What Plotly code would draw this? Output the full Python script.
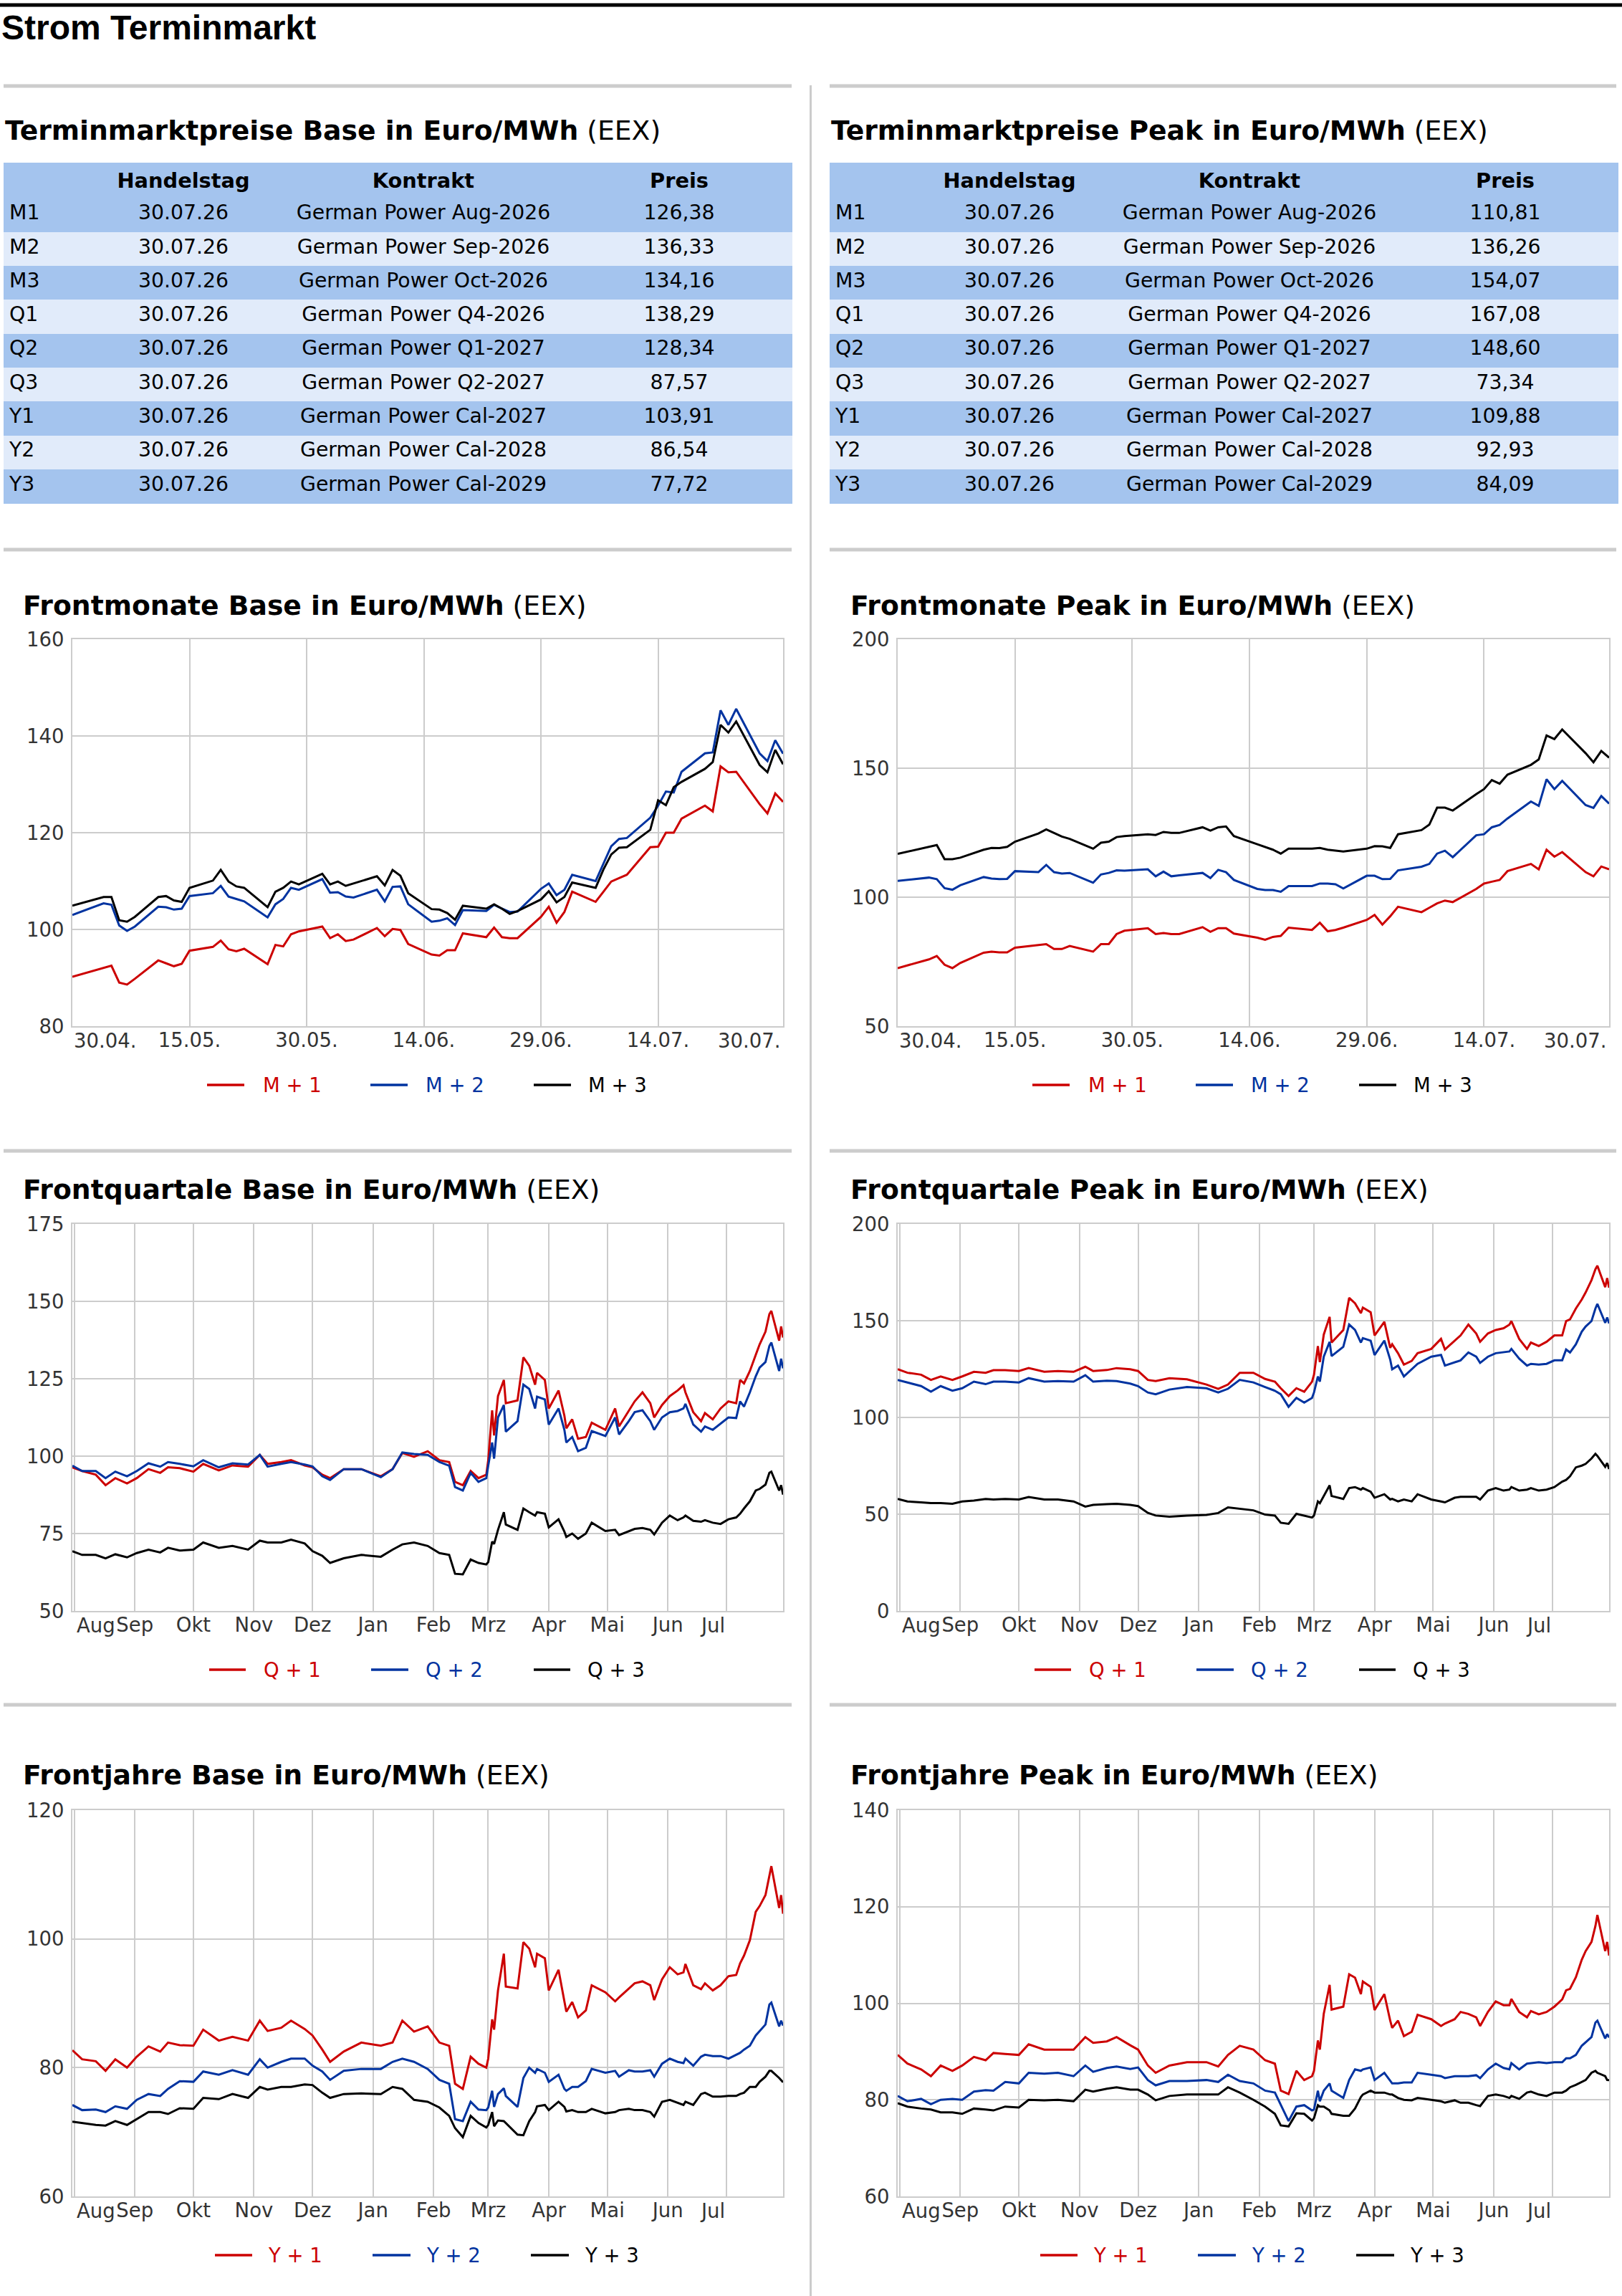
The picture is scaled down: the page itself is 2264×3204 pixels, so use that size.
import plotly.graph_objects as go

W, H = 2264, 3204
def xp(px): return px / W
def yp(px): return 1 - px / H

FONT = "DejaVu Sans"
RED, BLUE, BLACK = "#cc0000", "#0033a0", "#000000"
GRID = "#cccccc"
TICK = "#333333"
DARK_ROW, LIGHT_ROW = "#a4c4ee", "#e1ebfa"

# ---------------- table data ----------------
row_labels = ["M1", "M2", "M3", "Q1", "Q2", "Q3", "Y1", "Y2", "Y3"]
trade_day = ["30.07.26"] * 9
contracts = ["German Power Aug-2026", "German Power Sep-2026", "German Power Oct-2026",
             "German Power Q4-2026", "German Power Q1-2027", "German Power Q2-2027",
             "German Power Cal-2027", "German Power Cal-2028", "German Power Cal-2029"]
base_prices = [126.38, 136.33, 134.16, 138.29, 128.34, 87.57, 103.91, 86.54, 77.72]
peak_prices = [110.81, 136.26, 154.07, 167.08, 148.60, 73.34, 109.88, 92.93, 84.09]

# ---------------- front months (daily) ----------------
month_dates = ["2026-04-30", "2026-05-04", "2026-05-05", "2026-05-06", "2026-05-07", "2026-05-08",
               "2026-05-11", "2026-05-12", "2026-05-13", "2026-05-14", "2026-05-15",
               "2026-05-18", "2026-05-19", "2026-05-20", "2026-05-21", "2026-05-22",
               "2026-05-25", "2026-05-26", "2026-05-27", "2026-05-28", "2026-05-29",
               "2026-06-01", "2026-06-02", "2026-06-03", "2026-06-04", "2026-06-05",
               "2026-06-08", "2026-06-09", "2026-06-10", "2026-06-11", "2026-06-12",
               "2026-06-15", "2026-06-16", "2026-06-17", "2026-06-18", "2026-06-19",
               "2026-06-22", "2026-06-23", "2026-06-24", "2026-06-25", "2026-06-26",
               "2026-06-29", "2026-06-30", "2026-07-01", "2026-07-02", "2026-07-03",
               "2026-07-06", "2026-07-07", "2026-07-08", "2026-07-09", "2026-07-10",
               "2026-07-13", "2026-07-14", "2026-07-15", "2026-07-16", "2026-07-17",
               "2026-07-20", "2026-07-21", "2026-07-22", "2026-07-23", "2026-07-24",
               "2026-07-27", "2026-07-28", "2026-07-29", "2026-07-30"]
m1_base = [90.2, 92.0, 92.5, 89.0, 88.6, 89.8, 93.6, 93.0, 92.4, 92.9, 95.6, 96.4, 97.7, 95.9, 95.5, 96.0,
           92.8, 96.8, 96.5, 99.0, 99.6, 100.6, 98.2, 99.0, 97.6, 97.9, 100.3, 98.6, 100.1, 99.9, 97.0,
           94.8, 94.6, 95.7, 95.7, 99.2, 98.4, 100.4, 98.4, 98.2, 98.2, 102.6, 104.7, 101.4, 103.6, 107.8,
           105.7, 107.8, 109.9, 110.6, 111.3, 117.0, 117.1, 120.0, 120.0, 122.9, 125.6, 124.4, 133.7, 132.5,
           132.6, 125.9, 124.0, 128.1, 126.38]
m2_base = [103.0, 105.4, 105.1, 100.8, 99.7, 100.6, 104.7, 104.6, 104.1, 104.3, 106.9, 107.5, 109.0, 106.8,
           106.3, 105.8, 102.5, 105.2, 106.3, 108.6, 108.2, 110.4, 107.6, 107.7, 106.8, 106.6, 108.2, 105.8,
           108.8, 108.9, 105.2, 101.6, 101.8, 102.3, 100.9, 104.0, 103.8, 105.1, 104.3, 103.6, 103.7, 108.4,
           109.5, 107.1, 108.2, 111.3, 110.0, 113.5, 117.2, 118.7, 118.9, 123.1, 125.6, 128.5, 128.3, 132.6,
           136.4, 136.6, 145.3, 142.3, 145.6, 136.4, 134.8, 139.1, 136.33]
m3_base = [104.9, 106.7, 106.7, 101.9, 101.6, 102.6, 106.7, 106.9, 106.0, 105.7, 108.6, 110.1, 112.3, 109.9,
           108.9, 108.6, 104.6, 107.8, 108.6, 109.9, 109.3, 111.5, 109.3, 109.9, 109.0, 109.5, 111.0, 109.1,
           112.3, 111.1, 107.5, 104.2, 104.1, 103.4, 102.0, 104.9, 104.3, 105.2, 104.3, 103.2, 103.8, 106.2,
           107.9, 105.6, 106.7, 109.7, 108.6, 112.4, 115.5, 116.9, 117.0, 120.6, 126.7, 125.7, 129.4, 130.5,
           133.2, 134.6, 142.3, 140.7, 143.0, 134.0, 132.5, 137.1, 134.16]
m1_peak = [72.5, 75.9, 77.2, 73.8, 72.5, 74.5, 78.5, 78.9, 78.6, 78.6, 80.4, 81.4, 81.8, 79.9, 79.9, 81.1,
           78.9, 81.8, 81.8, 85.7, 87.0, 88.0, 85.7, 86.1, 85.7, 85.7, 88.4, 86.6, 88.0, 88.0, 85.9, 84.3,
           83.5, 84.6, 85.0, 88.2, 87.3, 90.1, 86.8, 87.3, 88.2, 91.2, 93.1, 89.4, 92.6, 96.3, 94.2, 95.9,
           97.6, 98.7, 98.1, 103.2, 105.3, 106.0, 106.7, 110.1, 112.9, 110.8, 118.4, 115.7, 117.5, 109.7,
           108.1, 111.9, 110.81]
m2_peak = [106.3, 107.6, 107.0, 103.5, 102.9, 104.6, 107.8, 107.2, 107.0, 107.1, 110.1, 109.7, 112.5, 109.7,
           109.2, 109.4, 105.6, 108.8, 109.4, 110.4, 110.3, 110.8, 108.1, 109.9, 108.1, 108.5, 109.4, 107.4,
           110.6, 109.7, 106.7, 103.2, 102.8, 102.8, 102.1, 104.3, 104.3, 105.3, 105.3, 105.0, 103.4, 108.3,
           108.3, 107.0, 107.1, 110.4, 111.8, 112.9, 116.9, 118.0, 115.5, 124.0, 124.4, 127.1, 128.0, 130.5,
           137.1, 135.4, 145.7, 141.9, 145.1, 135.7, 134.6, 139.2, 136.26]
m3_peak = [116.8, 119.4, 120.2, 114.7, 114.7, 115.3, 118.4, 119.1, 119.0, 119.5, 121.5, 124.7, 126.3, 124.9,
           123.5, 122.6, 118.8, 121.1, 121.5, 123.3, 123.7, 124.4, 124.1, 125.3, 124.9, 124.9, 127.1, 125.8,
           127.1, 127.4, 123.7, 120.5, 119.5, 118.4, 116.9, 118.8, 118.8, 119.1, 118.4, 118.0, 117.7, 118.8,
           119.8, 119.7, 119.1, 124.4, 126.0, 128.1, 134.7, 134.7, 133.6, 139.9, 141.9, 145.4, 144.0, 147.5,
           151.3, 153.4, 162.7, 161.3, 165.0, 155.8, 152.3, 156.7, 154.07]
month_tick_dates = ["2026-04-30", "2026-05-15", "2026-05-30", "2026-06-14", "2026-06-29", "2026-07-14"]
month_tick_text = ["", "15.05.", "30.05.", "14.06.", "29.06.", "14.07."]
month_first_label, month_last_label = "30.04.", "30.07."

# ---------------- front quarters / years (one year) ----------------
year_dates = ["2025-07-31", "2025-08-05", "2025-08-12", "2025-08-17", "2025-08-22", "2025-08-28",
              "2025-09-02", "2025-09-08", "2025-09-14", "2025-09-18", "2025-09-24", "2025-10-01",
              "2025-10-06", "2025-10-14", "2025-10-21", "2025-10-29", "2025-11-04", "2025-11-08",
              "2025-11-15", "2025-11-20", "2025-11-27", "2025-12-01", "2025-12-06", "2025-12-10",
              "2025-12-17", "2025-12-26", "2026-01-05", "2026-01-11", "2026-01-16", "2026-01-22",
              "2026-01-29", "2026-02-04", "2026-02-09", "2026-02-12", "2026-02-16", "2026-02-20",
              "2026-02-24", "2026-02-28", "2026-03-01", "2026-03-03", "2026-03-04", "2026-03-06",
              "2026-03-09", "2026-03-10", "2026-03-16", "2026-03-19", "2026-03-22", "2026-03-25",
              "2026-03-26", "2026-03-30", "2026-04-01", "2026-04-06", "2026-04-09", "2026-04-10",
              "2026-04-13", "2026-04-16", "2026-04-20", "2026-04-23", "2026-04-30", "2026-05-05",
              "2026-05-07", "2026-05-12", "2026-05-15", "2026-05-19", "2026-05-23", "2026-05-25",
              "2026-05-29", "2026-06-02", "2026-06-06", "2026-06-09", "2026-06-10", "2026-06-14",
              "2026-06-18", "2026-06-20", "2026-06-24", "2026-06-28", "2026-07-02", "2026-07-06",
              "2026-07-08", "2026-07-10", "2026-07-13", "2026-07-16", "2026-07-18", "2026-07-21",
              "2026-07-23", "2026-07-24", "2026-07-28", "2026-07-29", "2026-07-30"]
q1_base = [96.4, 95.2, 94.0, 90.6, 92.9, 91.2, 92.9, 95.8, 94.6, 96.4, 96.1, 95.0, 97.5, 95.4, 97.0, 96.6,
           100.4, 97.5, 98.1, 98.7, 97.0, 96.4, 94.0, 92.9, 95.8, 95.8, 93.5, 95.8, 101.0, 99.8, 101.6, 98.7,
           98.1, 91.7, 90.6, 95.2, 92.9, 94.0, 98.7, 114.8, 106.7, 119.4, 124.6, 117.1, 118.0, 131.9, 129.2,
           123.1, 126.9, 124.6, 115.4, 121.2, 113.1, 109.0, 111.9, 105.6, 106.2, 110.8, 108.5, 115.4, 109.6,
           114.6, 117.7, 120.6, 117.1, 112.5, 116.5, 119.4, 121.2, 122.9, 120.6, 114.2, 111.3, 113.9, 111.9,
           115.4, 117.7, 117.1, 124.6, 123.5, 127.5, 132.7, 136.1, 140.2, 145.9, 146.9, 137.3, 141.9, 138.29]
q2_base = [96.9, 95.2, 95.2, 92.9, 95.0, 93.5, 95.2, 97.7, 96.6, 98.1, 97.5, 96.7, 98.7, 96.4, 97.7, 97.3,
           100.4, 96.6, 97.5, 98.1, 97.3, 96.7, 93.5, 92.3, 95.8, 95.8, 93.2, 95.8, 101.2, 100.7, 100.4, 98.1,
           96.9, 90.0, 88.9, 94.6, 91.7, 92.9, 96.9, 104.4, 99.2, 112.5, 116.5, 107.9, 111.3, 123.1, 121.7,
           115.4, 119.2, 118.3, 110.2, 115.4, 108.5, 104.4, 106.2, 101.6, 102.7, 108.1, 106.5, 112.5, 107.0,
           111.3, 114.2, 114.8, 111.3, 108.5, 112.5, 114.2, 114.6, 115.4, 116.9, 110.2, 107.9, 109.6, 108.5,
           110.4, 112.5, 112.3, 117.7, 116.0, 120.6, 125.8, 128.6, 130.4, 135.6, 136.7, 127.5, 131.5, 128.34]
q3_base = [69.3, 68.1, 68.1, 67.0, 68.3, 67.3, 68.7, 69.8, 68.9, 70.4, 69.5, 69.8, 72.1, 70.4, 71.0, 69.8,
           72.7, 72.1, 72.1, 73.0, 71.8, 69.3, 67.8, 65.5, 67.0, 68.1, 67.5, 69.8, 71.5, 72.1, 71.0, 68.7,
           68.1, 62.0, 61.8, 66.6, 65.5, 65.0, 65.8, 72.4, 71.6, 76.2, 81.9, 77.9, 76.2, 83.1, 81.9, 80.8,
           81.9, 81.4, 77.0, 79.6, 75.6, 73.9, 75.0, 73.3, 75.0, 78.5, 75.8, 76.2, 74.5, 75.8, 76.5, 76.8,
           76.2, 74.7, 78.5, 80.8, 79.3, 80.2, 80.8, 79.1, 78.8, 79.3, 78.5, 78.1, 79.6, 80.2, 81.4, 83.1,
           85.4, 88.9, 89.4, 90.8, 94.6, 95.0, 88.9, 90.6, 87.57]
q1_peak = [124.9, 123.1, 122.1, 119.4, 121.2, 119.4, 121.2, 123.6, 123.1, 124.4, 124.4, 124.0, 125.5, 123.6,
           124.0, 123.6, 126.2, 124.0, 124.5, 125.5, 124.9, 124.0, 119.4, 118.8, 120.3, 119.7, 117.0, 114.8,
           117.0, 123.1, 123.1, 119.9, 118.5, 115.1, 111.1, 115.1, 113.3, 118.5, 122.1, 136.9, 128.6, 142.8,
           152.0, 138.7, 145.2, 161.8, 159.0, 153.9, 156.8, 154.4, 142.4, 149.4, 136.0, 137.8, 133.2, 127.3,
           129.2, 133.2, 135.4, 140.6, 135.1, 139.7, 142.4, 148.0, 143.4, 139.1, 143.4, 145.2, 146.1, 148.0,
           149.8, 140.6, 135.4, 138.7, 136.9, 139.1, 142.4, 142.4, 149.8, 150.7, 156.3, 160.9, 164.6, 171.0,
           176.6, 178.4, 167.3, 172.0, 167.08]
q2_peak = [119.4, 118.1, 116.2, 113.3, 116.2, 113.8, 115.1, 118.5, 117.2, 118.5, 118.5, 118.1, 120.3, 118.5,
           118.8, 118.5, 121.8, 118.5, 119.0, 118.8, 117.5, 116.2, 112.9, 112.0, 114.4, 115.7, 115.1, 112.9,
           114.8, 119.4, 118.1, 115.7, 113.8, 112.0, 105.5, 110.1, 107.7, 110.1, 112.9, 121.2, 118.5, 131.4,
           139.1, 131.7, 136.5, 148.0, 145.2, 138.7, 141.0, 139.7, 132.3, 139.7, 129.9, 124.9, 126.8, 121.2,
           124.9, 127.7, 131.4, 132.3, 126.8, 128.6, 129.5, 133.6, 131.4, 128.2, 131.4, 133.2, 133.8, 134.1,
           135.4, 130.4, 126.8, 127.7, 127.3, 127.7, 129.5, 129.5, 135.1, 133.6, 137.8, 144.3, 147.0, 149.8,
           156.3, 158.7, 148.9, 151.7, 148.60]
q3_peak = [57.9, 56.6, 56.1, 55.7, 55.7, 55.4, 56.6, 57.0, 57.9, 57.6, 57.9, 57.6, 58.9, 57.6, 57.6, 56.6,
           53.9, 54.8, 55.2, 55.4, 54.8, 54.2, 50.7, 49.3, 48.7, 49.3, 49.6, 50.6, 53.5, 52.9, 52.0, 49.8,
           49.3, 45.6, 45.0, 50.2, 49.3, 48.3, 49.3, 56.6, 55.7, 59.4, 64.9, 59.4, 57.9, 63.5, 64.0, 62.7,
           63.5, 61.6, 58.5, 60.3, 57.6, 57.9, 56.6, 57.6, 56.6, 60.3, 57.6, 56.6, 56.1, 58.5, 59.0, 59.0,
           59.0, 57.6, 62.2, 63.5, 62.2, 62.7, 64.0, 62.2, 62.7, 63.5, 62.2, 62.7, 64.0, 66.8, 67.7, 69.6,
           74.2, 75.1, 76.0, 78.8, 81.2, 80.1, 74.5, 76.4, 73.34]
y1_base = [82.7, 81.3, 81.0, 79.5, 81.3, 80.0, 81.7, 83.3, 82.5, 83.9, 83.5, 83.4, 85.9, 84.2, 84.8, 84.2,
           87.3, 85.7, 86.2, 87.3, 86.0, 85.0, 82.8, 80.9, 82.5, 83.9, 83.4, 83.9, 87.3, 85.6, 86.4, 83.9,
           83.4, 77.5, 76.7, 81.7, 80.6, 80.0, 81.4, 87.5, 85.9, 92.0, 97.7, 92.6, 92.3, 99.5, 98.5, 95.6,
           97.7, 97.0, 92.0, 95.2, 90.3, 88.7, 90.2, 87.8, 88.9, 92.8, 91.7, 90.3, 90.9, 92.3, 93.1, 93.4,
           92.8, 90.5, 93.7, 95.6, 94.5, 94.8, 96.1, 92.8, 92.2, 93.1, 92.0, 92.8, 94.2, 94.4, 96.2, 97.4,
           99.8, 104.2, 105.1, 106.8, 110.1, 111.3, 104.8, 106.8, 103.91]
y2_base = [74.2, 73.4, 73.5, 73.1, 74.0, 73.6, 75.0, 75.9, 75.6, 76.7, 77.9, 77.8, 79.4, 78.9, 79.6, 78.9,
           81.3, 80.0, 80.9, 81.4, 81.4, 80.3, 79.4, 78.1, 79.5, 79.8, 79.8, 80.9, 81.4, 80.9, 79.8, 78.1,
           77.5, 72.0, 71.7, 74.7, 73.5, 73.4, 73.8, 76.4, 73.9, 75.9, 76.8, 75.6, 73.9, 78.4, 80.0, 79.2,
           79.8, 79.2, 77.8, 78.9, 76.7, 76.4, 77.0, 77.0, 77.9, 79.8, 79.2, 79.5, 78.6, 79.6, 79.4, 79.4,
           79.6, 78.6, 80.6, 81.4, 80.9, 80.7, 81.4, 80.3, 81.7, 82.0, 81.8, 81.8, 81.4, 82.0, 82.3, 82.8,
           83.4, 85.0, 85.7, 86.7, 89.8, 90.1, 86.4, 87.3, 86.54]
y3_base = [71.6, 71.4, 71.1, 71.0, 71.7, 71.1, 72.0, 73.1, 73.1, 72.8, 73.7, 73.6, 75.3, 75.1, 75.9, 75.3,
           77.0, 76.6, 77.0, 77.0, 77.4, 77.3, 76.1, 75.3, 75.9, 76.0, 75.9, 77.0, 76.7, 75.0, 74.7, 73.8,
           72.5, 70.6, 69.2, 72.5, 71.4, 70.7, 71.1, 73.1, 70.9, 71.8, 71.7, 71.4, 69.6, 69.5, 71.7, 73.1,
           74.0, 74.2, 73.4, 74.7, 73.9, 73.2, 73.4, 73.1, 73.1, 73.6, 72.9, 73.1, 73.4, 73.6, 73.4, 73.4,
           73.1, 72.4, 74.7, 75.0, 74.5, 74.2, 74.7, 74.2, 75.9, 76.1, 75.5, 75.5, 75.6, 75.6, 75.9, 76.1,
           77.0, 77.0, 77.8, 78.6, 79.5, 79.5, 78.4, 78.1, 77.72]
y1_peak = [89.3, 87.5, 86.3, 84.9, 87.1, 86.0, 87.1, 88.9, 88.2, 89.7, 89.5, 89.3, 91.5, 90.4, 90.4, 90.4,
           93.0, 91.8, 92.1, 93.0, 91.3, 90.4, 87.1, 85.6, 87.1, 87.8, 87.8, 86.9, 89.3, 91.2, 90.4, 88.2,
           87.5, 81.9, 81.2, 86.0, 84.1, 84.9, 86.0, 92.3, 90.4, 97.8, 103.8, 98.7, 99.3, 106.0, 105.3, 101.9,
           104.5, 103.4, 98.6, 101.9, 96.4, 94.9, 96.4, 93.2, 94.1, 97.6, 96.7, 95.3, 95.8, 96.7, 98.2, 97.8,
           97.1, 95.3, 98.2, 100.4, 99.6, 99.6, 100.9, 98.2, 97.1, 98.4, 97.7, 98.2, 99.3, 100.8, 102.7, 103.0,
           105.4, 109.0, 110.8, 112.7, 116.0, 118.3, 110.8, 112.7, 109.88]
y2_peak = [80.8, 79.7, 80.2, 79.1, 80.0, 80.2, 80.0, 81.7, 82.0, 81.9, 83.7, 83.4, 85.6, 85.4, 85.6, 84.9,
           87.1, 85.8, 86.6, 86.9, 86.4, 86.7, 84.1, 83.0, 83.9, 83.9, 84.1, 83.7, 85.2, 83.9, 83.4, 81.9,
           81.5, 78.9, 75.6, 78.6, 78.9, 77.8, 78.0, 81.9, 79.7, 81.9, 83.4, 81.9, 80.4, 84.1, 86.3, 86.0,
           86.3, 86.7, 84.1, 85.6, 83.9, 83.4, 83.4, 83.6, 83.6, 85.6, 85.2, 84.9, 84.5, 84.9, 84.9, 84.9,
           85.1, 84.5, 86.3, 87.5, 86.6, 86.3, 87.6, 86.3, 87.5, 87.6, 87.8, 87.6, 87.8, 87.8, 88.6, 88.6,
           89.3, 91.2, 91.9, 93.0, 96.0, 96.4, 92.7, 93.6, 92.93]
y3_peak = [79.3, 78.6, 78.2, 78.0, 77.4, 77.4, 77.1, 78.2, 78.0, 77.8, 78.6, 78.4, 80.0, 79.9, 80.0, 79.7,
           82.1, 81.7, 82.3, 82.6, 82.1, 82.1, 81.1, 79.9, 80.8, 81.1, 81.1, 81.1, 82.6, 81.5, 80.0, 78.6,
           77.1, 74.7, 74.5, 77.2, 77.1, 75.7, 76.2, 78.9, 78.6, 78.6, 77.8, 77.1, 76.7, 76.7, 78.2, 80.6,
           81.1, 81.9, 81.5, 81.5, 81.1, 81.1, 80.4, 80.0, 79.9, 80.4, 80.0, 79.7, 79.4, 79.9, 79.4, 79.4,
           78.9, 78.7, 80.8, 81.1, 80.8, 80.4, 80.8, 80.2, 81.5, 81.7, 81.1, 80.8, 81.5, 81.5, 81.9, 82.6,
           83.1, 83.7, 84.1, 85.6, 86.0, 85.6, 84.9, 84.1, 84.09]
year_tick_dates = ["2025-08-01", "2025-09-01", "2025-10-01", "2025-11-01", "2025-12-01", "2026-01-01",
                   "2026-02-01", "2026-03-01", "2026-04-01", "2026-05-01", "2026-06-01", "2026-07-01"]
year_tick_text = ["", "Sep", "Okt", "Nov", "Dez", "Jan", "Feb", "Mrz", "Apr", "Mai", "Jun", ""]
year_first_label, year_last_label = "Aug", "Jul"

# ---------------- chart definitions ----------------
charts = [
    dict(title="Frontmonate Base", x=month_dates, series=[m1_base, m2_base, m3_base],
         names=["M + 1", "M + 2", "M + 3"], yr=[80, 160], dt=20, kind="m"),
    dict(title="Frontmonate Peak", x=month_dates, series=[m1_peak, m2_peak, m3_peak],
         names=["M + 1", "M + 2", "M + 3"], yr=[50, 200], dt=50, kind="m"),
    dict(title="Frontquartale Base", x=year_dates, series=[q1_base, q2_base, q3_base],
         names=["Q + 1", "Q + 2", "Q + 3"], yr=[50, 175], dt=25, kind="q"),
    dict(title="Frontquartale Peak", x=year_dates, series=[q1_peak, q2_peak, q3_peak],
         names=["Q + 1", "Q + 2", "Q + 3"], yr=[0, 200], dt=50, kind="q"),
    dict(title="Frontjahre Base", x=year_dates, series=[y1_base, y2_base, y3_base],
         names=["Y + 1", "Y + 2", "Y + 3"], yr=[60, 120], dt=20, kind="y"),
    dict(title="Frontjahre Peak", x=year_dates, series=[y1_peak, y2_peak, y3_peak],
         names=["Y + 1", "Y + 2", "Y + 3"], yr=[60, 140], dt=20, kind="y"),
]
colors = [RED, BLUE, BLACK]

# layout geometry (pixels)
COL_X = [(101, 1093), (1253, 2246)]
ROW_Y = [(892, 1432), (1708, 2248), (2526, 3065)]
TITLE_X = [30, 1185]
TITLE_Y = [845, 1660, 2477]
LEGEND_POS = {"m": [(188, 240, 264), (416, 468, 491), (644, 696, 718)],
              "q": [(191, 242, 265), (417, 469, 491), (644, 695, 717)],
              "y": [(199, 251, 271), (419, 472, 492), (640, 693, 713)]}

fig = go.Figure()
annotations = []
shapes = []

tick_font = dict(family=FONT, size=27.5, color=TICK)
TITLE_SIZE = 37.7

for i, c in enumerate(charts):
    n = i + 1
    col, row = i % 2, i // 2
    x0, x1 = COL_X[col]
    ytop, ybot = ROW_Y[row]
    xa = "xaxis" if n == 1 else f"xaxis{n}"
    ya = "yaxis" if n == 1 else f"yaxis{n}"
    xr = "x" if n == 1 else f"x{n}"
    yr = "y" if n == 1 else f"y{n}"
    for s, col_c, nm in zip(c["series"], colors, c["names"]):
        fig.add_trace(go.Scatter(x=c["x"], y=s, mode="lines", name=nm,
                                 line=dict(color=col_c, width=3),
                                 xaxis=xr, yaxis=yr, showlegend=False, hoverinfo="skip"))
    if c["kind"] == "m":
        tv, tt = month_tick_dates, month_tick_text
        xrange = [month_dates[0], month_dates[-1]]
        first_lab, last_lab = month_first_label, month_last_label
    else:
        tv, tt = year_tick_dates, year_tick_text
        xrange = [year_dates[0], year_dates[-1]]
        first_lab, last_lab = year_first_label, year_last_label
    fig.layout[xa] = dict(domain=[xp(x0), xp(x1)], anchor=yr, type="date", range=xrange,
                          tickmode="array", tickvals=tv, ticktext=tt,
                          showgrid=True, gridcolor=GRID, gridwidth=2,
                          showline=True, linecolor=GRID, linewidth=2, mirror=True,
                          ticks="", tickfont=tick_font, zeroline=False, fixedrange=True,
                          ticklabelstandoff=-6, automargin=False)
    fig.layout[ya] = dict(domain=[yp(ybot), yp(ytop)], anchor=xr, range=c["yr"],
                          tickmode="linear", tick0=c["yr"][0], dtick=c["dt"],
                          showgrid=True, gridcolor=GRID, gridwidth=2,
                          showline=True, linecolor=GRID, linewidth=2, mirror=True,
                          ticks="", tickfont=tick_font, zeroline=False, fixedrange=True,
                          ticklabelstandoff=4, automargin=False)
    # title
    annotations.append(dict(text=f"<b>{c['title']} in Euro/MWh</b> (EEX)", x=xp(TITLE_X[col]),
                            y=yp(TITLE_Y[row]), xref="paper", yref="paper", xanchor="left",
                            yanchor="middle", showarrow=False,
                            font=dict(family=FONT, size=TITLE_SIZE, color="black")))
    # edge labels on x axis
    lab_y = yp(ybot + 20)
    if c["kind"] == "m":
        annotations.append(dict(text=first_lab, x=xp(x0), y=lab_y, xref="paper", yref="paper",
                                xanchor="left", yanchor="middle", showarrow=False, font=tick_font))
        annotations.append(dict(text=last_lab, x=xp(x1 - 2), y=lab_y, xref="paper", yref="paper",
                                xanchor="right", yanchor="middle", showarrow=False, font=tick_font))
    else:
        annotations.append(dict(text=first_lab, x=xp(x0 + 4), y=lab_y, xref="paper", yref="paper",
                                xanchor="left", yanchor="middle", showarrow=False, font=tick_font))
        annotations.append(dict(text=last_lab, x=year_tick_dates[-1], y=lab_y, xref=xr, yref="paper",
                                xanchor="right", yanchor="middle", showarrow=False, font=tick_font))
    # legend
    ly = ybot + 82
    for (l0, l1, tx), col_c, nm in zip(LEGEND_POS[c["kind"]], colors, c["names"]):
        shapes.append(dict(type="line", xref="paper", yref="paper", x0=xp(x0 + l0), x1=xp(x0 + l1),
                           y0=yp(ly), y1=yp(ly), line=dict(color=col_c, width=3.5)))
        annotations.append(dict(text=nm, x=xp(x0 + tx), y=yp(ly), xref="paper", yref="paper",
                                xanchor="left", yanchor="middle", showarrow=False,
                                font=dict(family=FONT, size=27.5, color=col_c)))

# ---------------- tables ----------------
def fmt(v):
    return f"{v:.2f}".replace(".", ",")

row_colors = [DARK_ROW if k % 2 == 0 else LIGHT_ROW for k in range(len(row_labels))]
for (tx0, tx1, prices, ttl, ttx) in [(5, 1105, base_prices, "Terminmarktpreise Base", 5),
                                      (1158, 2258, peak_prices, "Terminmarktpreise Peak", 1158)]:
    fig.add_trace(go.Table(
        domain=dict(x=[xp(tx0), xp(tx1)], y=[yp(720), yp(227)]),
        columnwidth=[116, 270, 400, 314],
        header=dict(values=["", "<b>Handelstag</b>", "<b>Kontrakt</b>", "<b>Preis</b>"],
                    fill_color=DARK_ROW, line=dict(color=DARK_ROW, width=1),
                    align=["left", "center", "center", "center"],
                    font=dict(family=FONT, size=28.8, color="black"), height=47),
        cells=dict(values=[row_labels, trade_day, contracts, [fmt(p) for p in prices]],
                   fill_color=[row_colors] * 4, line=dict(color=[row_colors] * 4, width=1),
                   align=["left", "center", "center", "center"],
                   font=dict(family=FONT, size=28.3, color="black"), height=47.3)))
    annotations.append(dict(text=f"<b>{ttl} in Euro/MWh</b> (EEX)", x=xp(ttx), y=yp(181.5),
                            xref="paper", yref="paper", xanchor="left", yanchor="middle",
                            showarrow=False, font=dict(family=FONT, size=TITLE_SIZE, color="black")))

# ---------------- page decoration ----------------
annotations.append(dict(text="<b>Strom Terminmarkt</b>", x=xp(0), y=yp(38), xref="paper", yref="paper",
                        xanchor="left", yanchor="middle", showarrow=False,
                        font=dict(family="Liberation Sans", size=48, color="black")))
shapes.append(dict(type="rect", xref="paper", yref="paper", x0=0, x1=1, y0=yp(9.5), y1=yp(4.5),
                   fillcolor="black", line=dict(width=0)))
for sy in [120, 767, 1606, 2379]:
    for (sx0, sx1) in [(5, 1105), (1158, 2256)]:
        shapes.append(dict(type="rect", xref="paper", yref="paper", x0=xp(sx0), x1=xp(sx1),
                           y0=yp(sy + 2.5), y1=yp(sy - 2.5), fillcolor=GRID, line=dict(width=0)))
shapes.append(dict(type="rect", xref="paper", yref="paper", x0=xp(1130), x1=xp(1133),
                   y0=0, y1=yp(119), fillcolor=GRID, line=dict(width=0)))

fig.update_layout(width=W, height=H,
                  margin=dict(l=0, r=0, t=0, b=0, pad=0, autoexpand=False),
                  paper_bgcolor="white", plot_bgcolor="white", showlegend=False,
                  annotations=annotations, shapes=shapes, font=dict(family=FONT))

# pin the page to exactly the figure size, figure at the top-left corner
page_js = ("var s='margin:0;padding:0;width:2264px;height:3204px;overflow:hidden;';"
           "document.documentElement.style.cssText=s;document.body.style.cssText=s+'position:relative;';"
           "var gd=document.getElementById('{plot_id}');"
           "gd.style.position='absolute';gd.style.left='0px';gd.style.top='0px';")
fig.write_html("out.html", post_script=page_js, config={"displayModeBar": False})
